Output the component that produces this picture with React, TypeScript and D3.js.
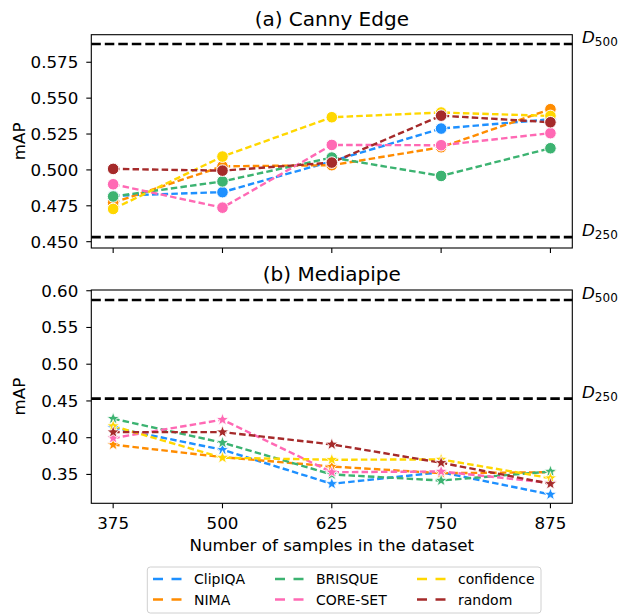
import React from "react";
import * as d3 from "d3";

const sizes = [375, 500, 625, 750, 875];
const methods = ["ClipIQA", "NIMA", "BRISQUE", "CORE-SET", "confidence", "random"];
const colors = ["#1e90ff", "#ff8c00", "#3cb371", "#ff69b4", "#ffd700", "#a52a2a"];

// (a) Canny Edge
const cannyClipIQA = [0.482, 0.4845, 0.506, 0.5288, 0.5353];
const cannyNIMA = [0.4772, 0.5025, 0.5033, 0.5158, 0.5423];
const cannyBRISQUE = [0.4815, 0.492, 0.5086, 0.4958, 0.5151];
const cannyCORESET = [0.490, 0.4737, 0.5174, 0.5172, 0.5256];
const cannyConfidence = [0.4728, 0.5093, 0.5367, 0.540, 0.5376];
const cannyRandom = [0.5007, 0.4995, 0.5051, 0.5378, 0.5332];

// (b) Mediapipe
const mpClipIQA = [0.4136, 0.3836, 0.3372, 0.353, 0.3227];
const mpNIMA = [0.3905, 0.3735, 0.3608, 0.3517, 0.353];
const mpBRISQUE = [0.4259, 0.3932, 0.350, 0.3417, 0.354];
const mpCORESET = [0.3995, 0.4245, 0.353, 0.354, 0.3385];
const mpConfidence = [0.4158, 0.3727, 0.370, 0.3704, 0.345];
const mpRandom = [0.4076, 0.4076, 0.3909, 0.3659, 0.3372];

const cannyD500 = 0.5877;
const cannyD250 = 0.4532;
const mpD500 = 0.5874;
const mpD250 = 0.4532;

const cannyTicks = [0.45, 0.475, 0.5, 0.525, 0.55, 0.575];
const mpTicks = [0.35, 0.4, 0.45, 0.5, 0.55, 0.6];

const FONT = "DejaVu Sans, sans-serif";
const W = 619;
const H = 614;
const left = 91.3;
const right = 572.3;

const x = d3.scaleLinear().domain([350, 900]).range([left, right]);

function starPath(r: number) {
  const pts: string[] = [];
  for (let i = 0; i < 10; i++) {
    const rr = i % 2 === 0 ? r : r * 0.42;
    const a = -Math.PI / 2 + (i * Math.PI) / 5;
    pts.push(`${(rr * Math.cos(a)).toFixed(2)},${(rr * Math.sin(a)).toFixed(2)}`);
  }
  return "M" + pts.join("L") + "Z";
}

function Panel(props: {
  title: string;
  top: number;
  bottom: number;
  domain: [number, number];
  ticks: number[];
  fmt: string;
  series: number[][];
  d500: number;
  d250: number;
  marker: "circle" | "star";
  showXLabels: boolean;
}) {
  const { title, top, bottom, domain, ticks, fmt, series, d500, d250, marker, showXLabels } = props;
  const y = d3.scaleLinear().domain(domain).range([bottom, top]);
  const line = d3
    .line<number>()
    .x((_, i) => x(sizes[i]))
    .y((d) => y(d));
  const f = d3.format(fmt);
  const star = starPath(6.5);
  return (
    <g>
      <text x={(left + right) / 2} y={top - 8.7} textAnchor="middle" fontSize={20} fontFamily={FONT}>
        {title}
      </text>
      <text
        transform={`translate(25,${(top + bottom) / 2}) rotate(-90)`}
        textAnchor="middle"
        fontSize={16.7}
        fontFamily={FONT}
      >
        mAP
      </text>
      {[d500, d250].map((v, i) => (
        <g key={i}>
          <line x1={left} x2={right} y1={y(v)} y2={y(v)} stroke="#000" strokeWidth={2.6} strokeDasharray="9.5,4" />
          <text x={582} y={y(v) - 1} fontSize={16.7} fontFamily={FONT}>
            <tspan fontStyle="italic">D</tspan>
            <tspan fontSize={12} dy={3}>{i === 0 ? "500" : "250"}</tspan>
          </text>
        </g>
      ))}
      {series.map((s, k) => (
        <path key={k} d={line(s) || ""} fill="none" stroke={colors[k]} strokeWidth={2.4} strokeDasharray="6.5,3.2" />
      ))}
      {series.map((s, k) =>
        s.map((v, i) =>
          marker === "circle" ? (
            <circle key={`${k}-${i}`} cx={x(sizes[i])} cy={y(v)} r={5.8} fill={colors[k]} stroke="#fff" strokeWidth={1} />
          ) : (
            <path
              key={`${k}-${i}`}
              d={star}
              transform={`translate(${x(sizes[i])},${y(v)})`}
              fill={colors[k]}
              stroke="#fff"
              strokeWidth={0.8}
            />
          )
        )
      )}
      <rect x={left} y={top} width={right - left} height={bottom - top} fill="none" stroke="#000" strokeWidth={1.1} />
      {ticks.map((t) => (
        <g key={t}>
          <line x1={left - 5} x2={left} y1={y(t)} y2={y(t)} stroke="#000" strokeWidth={1.1} />
          <text x={left - 13} y={y(t)} dy="0.36em" textAnchor="end" fontSize={16.7} fontFamily={FONT}>
            {f(t)}
          </text>
        </g>
      ))}
      {sizes.map((s) => (
        <g key={s}>
          <line x1={x(s)} x2={x(s)} y1={bottom} y2={bottom + 5} stroke="#000" strokeWidth={1.1} />
          {showXLabels && (
            <text x={x(s)} y={bottom + 26} textAnchor="middle" fontSize={16.7} fontFamily={FONT}>
              {s}
            </text>
          )}
        </g>
      ))}
    </g>
  );
}

export default function App() {
  const canny = [cannyClipIQA, cannyNIMA, cannyBRISQUE, cannyCORESET, cannyConfidence, cannyRandom];
  const mp = [mpClipIQA, mpNIMA, mpBRISQUE, mpCORESET, mpConfidence, mpRandom];
  const legendCols = [153, 275, 417];
  const legendRows = [579, 599.5];
  return (
    <svg width={W} height={H} style={{ position: "absolute", left: 0, top: 0, background: "#fff" }}>
      <Panel
        title="(a) Canny Edge"
        top={34.7}
        bottom={248}
        domain={[0.4456, 0.5942]}
        ticks={cannyTicks}
        fmt=".3f"
        series={canny}
        d500={cannyD500}
        d250={cannyD250}
        marker="circle"
        showXLabels={false}
      />
      <Panel
        title="(b) Mediapipe"
        top={290}
        bottom={503.3}
        domain={[0.3107, 0.601]}
        ticks={mpTicks}
        fmt=".2f"
        series={mp}
        d500={mpD500}
        d250={mpD250}
        marker="star"
        showXLabels={true}
      />
      <text x={(left + right) / 2} y={551} textAnchor="middle" fontSize={16.7} fontFamily={FONT}>
        Number of samples in the dataset
      </text>
      <rect x={147.3} y={567} width={393.7} height={46} rx={3} fill="#fff" stroke="#d0d0d0" strokeWidth={1} />
      {methods.map((m, i) => {
        const col = Math.floor(i / 2);
        const row = i % 2;
        const lx = legendCols[col];
        const ly = legendRows[row];
        return (
          <g key={m}>
            <line x1={lx} x2={lx + 28.5} y1={ly} y2={ly} stroke={colors[i]} strokeWidth={2.6} strokeDasharray="10,8.5" />
            <text x={lx + 41} y={ly} dy="0.36em" fontSize={14} fontFamily={FONT}>
              {m}
            </text>
          </g>
        );
      })}
    </svg>
  );
}
